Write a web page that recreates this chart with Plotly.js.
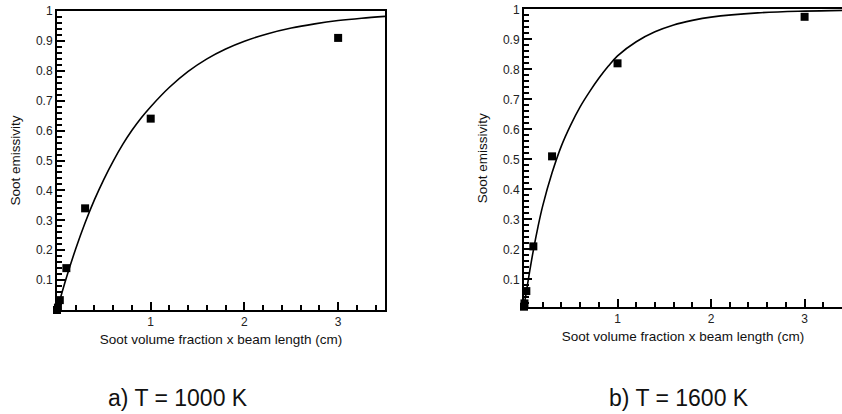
<!DOCTYPE html>
<html>
<head>
<meta charset="utf-8">
<script src="https://cdn.plot.ly/plotly-3.0.1.min.js"></script>
<style>html,body{margin:0;padding:0;background:#fff;}#chart{width:842px;height:414px;}</style>
</head>
<body>
<div id="chart"></div>
<script>
// ---- data ----
// a) T = 1000 K : measured points
const pointsX_1000 = [0, 0.01, 0.03, 0.1, 0.3, 1, 3];
const pointsY_1000 = [0, 0.008, 0.033, 0.14, 0.34, 0.64, 0.91];
// a) model curve
const curveX_1000 = [0, 0.1, 0.2, 0.3, 0.4, 0.5, 0.6, 0.7, 0.8, 0.9, 1.0, 1.2, 1.4, 1.6, 1.8, 2.0, 2.25, 2.5, 2.75, 3.0, 3.25, 3.5];
const curveY_1000 = [0, 0.108, 0.205, 0.292, 0.369, 0.437, 0.498, 0.553, 0.601, 0.643, 0.68, 0.745, 0.798, 0.84, 0.873, 0.899, 0.924, 0.943, 0.957, 0.968, 0.976, 0.982];

// b) T = 1600 K : measured points
const pointsX_1600 = [0, 0.005, 0.025, 0.1, 0.3, 1, 3];
const pointsY_1600 = [0.009, 0.02, 0.061, 0.21, 0.51, 0.82, 0.975];
// b) model curve
const curveX_1600 = [0, 0.05, 0.1, 0.15, 0.2, 0.3, 0.4, 0.5, 0.6, 0.7, 0.8, 0.9, 1.0, 1.2, 1.4, 1.6, 1.8, 2.0, 2.5, 3.0, 3.5];
const curveY_1600 = [0.01, 0.107, 0.197, 0.276, 0.345, 0.455, 0.545, 0.615, 0.675, 0.725, 0.77, 0.81, 0.845, 0.892, 0.925, 0.948, 0.963, 0.974, 0.988, 0.994, 0.997];

const xTickVals = [1, 2, 3];
const xTickText = ['1', '2', '3'];
const yTickVals = [0.1, 0.2, 0.3, 0.4, 0.5, 0.6, 0.7, 0.8, 0.9, 1];
const yTickText = ['0.1', '0.2', '0.3', '0.4', '0.5', '0.6', '0.7', '0.8', '0.9', '1'];
const xMinorStep = 0.2;
const yMinorStep = 0.02;

const xTitle = 'Soot volume fraction x beam length (cm)';
const yTitle = 'Soot emissivity';
const captionA = 'a) T = 1000 K';
const captionB = 'b) T = 1600 K';

// ---- traces ----
const curveStyle = {color: '#000', width: 1.6, shape: 'spline', smoothing: 1};
const markerStyle = {symbol: 'square', size: 8, color: '#000'};

const traces = [
  {x: curveX_1000, y: curveY_1000, xaxis: 'x', yaxis: 'y', mode: 'lines', line: curveStyle, hoverinfo: 'skip'},
  {x: pointsX_1000, y: pointsY_1000, xaxis: 'x', yaxis: 'y', mode: 'markers', marker: markerStyle, cliponaxis: false},
  {x: curveX_1600, y: curveY_1600, xaxis: 'x2', yaxis: 'y2', mode: 'lines', line: curveStyle, hoverinfo: 'skip'},
  {x: pointsX_1600, y: pointsY_1600, xaxis: 'x2', yaxis: 'y2', mode: 'markers', marker: markerStyle, cliponaxis: false}
];

const W = 842, H = 414;
const FONT = 'Liberation Sans, Arial, sans-serif';
const tickFont = {family: FONT, size: 12, color: '#222'};
const titleFont = {family: FONT, size: 13.5, color: '#111'};

function axis(domain, range, anchor, mirror, vals, text, step, title, standoff) {
  return {
    domain: domain, range: range, anchor: anchor,
    showgrid: false, zeroline: false,
    showline: true, linecolor: '#000', linewidth: 2, mirror: mirror,
    ticks: 'inside', ticklen: 8, tickwidth: 2, tickcolor: '#000',
    tickmode: 'array', tickvals: vals, ticktext: text,
    tickfont: tickFont,
    minor: {dtick: step, ticks: 'inside', ticklen: 5, tickwidth: 2, tickcolor: '#000'},
    title: {text: title, font: titleFont, standoff: standoff}
  };
}

const xRangeA = [0, 3.5], yRangeA = [0, 1];
const xRangeB = [0, 3.40], yRangeB = [0.008, 1];

const layout = {
  width: W, height: H,
  margin: {l: 0, r: 0, t: 0, b: 0},
  paper_bgcolor: '#fff', plot_bgcolor: '#fff',
  showlegend: false,
  xaxis: axis([57 / W, 385 / W], xRangeA, 'y', true, xTickVals, xTickText, xMinorStep, xTitle, 6),
  yaxis: axis([1 - 310 / H, 1 - 11 / H], yRangeA, 'x', true, yTickVals, yTickText, yMinorStep, yTitle, 12),
  xaxis2: axis([524 / W, 1], xRangeB, 'y2', true, xTickVals, xTickText, xMinorStep, xTitle, 6),
  yaxis2: axis([1 - 307 / H, 1 - 9.3 / H], yRangeB, 'x2', false, yTickVals, yTickText, yMinorStep, yTitle, 12),
  annotations: [
    {text: captionA, xref: 'paper', yref: 'paper', x: 178 / W, y: 1 - 398 / H, xanchor: 'center', yanchor: 'middle', showarrow: false,
     font: {family: FONT, size: 23, color: '#111'}},
    {text: captionB, xref: 'paper', yref: 'paper', x: 679 / W, y: 1 - 398 / H, xanchor: 'center', yanchor: 'middle', showarrow: false,
     font: {family: FONT, size: 23, color: '#111'}}
  ]
};

Plotly.newPlot('chart', traces, layout, {displayModeBar: false});
</script>
</body>
</html>
